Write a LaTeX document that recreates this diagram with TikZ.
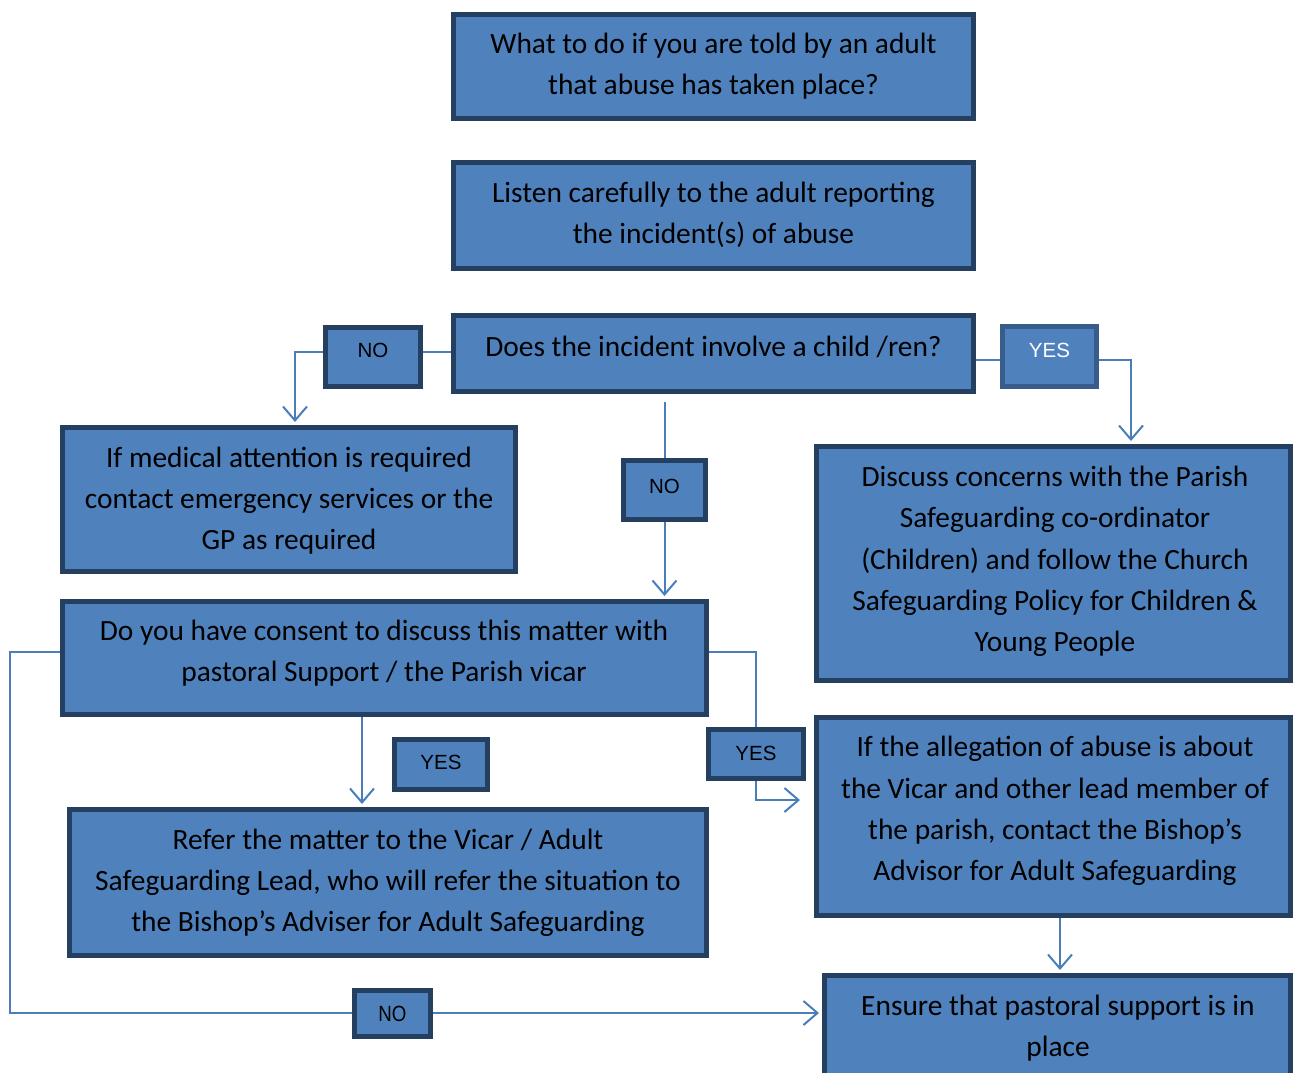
\documentclass[tikz,border=0pt]{standalone}
\usepackage{fontspec}
\setmainfont{Carlito}
\newfontfamily\arialf{Liberation Sans}
\usetikzlibrary{arrows.meta,backgrounds}
\definecolor{boxfill}{HTML}{4F81BD}
\definecolor{boxline}{HTML}{243F60}
\definecolor{boxline2}{HTML}{385D8A}
\definecolor{connc}{HTML}{4A7EBB}
\tikzset{
  box/.style={draw=boxline, fill=boxfill, line width=5pt, inner sep=0pt},
  txt/.style={align=center, inner sep=0pt, yshift=-2pt, font=\fontsize{29.4}{41.3}\selectfont},
  lbl/.style={inner sep=0pt, font=\arialf\fontsize{20.5}{24}\selectfont},
  conn/.style={draw=connc, line width=2pt},
  arr/.style={conn, -{Straight Barb[length=14pt,width=24pt,line width=2pt]}, shorten >=3pt},
}
\begin{document}
\begin{tikzpicture}[x=1pt,y=-1pt]
\useasboundingbox (0,0) rectangle (1294,1072);
% boxes
\node[box, minimum width=520, minimum height=104] (title) at (713.5,66.5) {};
\node[txt] (titleT) at (713.5,64.5) {What to do if you are told by an adult\\that abuse has taken place?};
\node[box, minimum width=520, minimum height=106] (listen) at (713.5,215.5) {};
\node[txt] (listenT) at (713.5,213) {Listen carefully to the adult reporting\\the incident(s) of abuse};
\node[box, minimum width=520, minimum height=76] (does) at (713.5,353.5) {};
\node[txt] (doesT) at (713.5,345) {Does the incident involve a child /ren?};
\node[box, minimum width=95, minimum height=59] (noL) at (373,357) {};
\node[lbl] (noLT) at (373,350) {NO};
\node[box, draw=boxline2, minimum width=94, minimum height=60] (yesR) at (1049.5,356.5) {};
\node[lbl, text=white] (yesRT) at (1049.5,350) {YES};
\node[box, minimum width=453, minimum height=144] (medical) at (289,499.5) {};
\node[txt] (medicalT) at (289,498.5) {If medical attention is required\\contact emergency services or the\\GP as required};
\node[box, minimum width=82, minimum height=59] (noM) at (664.5,490) {};
\node[lbl] (noMT) at (664.5,486) {NO};
\node[box, minimum width=474, minimum height=234] (discuss) at (1053.5,563.5) {};
\node[txt] (discussT) at (1055,559.5) {Discuss concerns with the Parish\\Safeguarding co-ordinator\\(Children) and follow the Church\\Safeguarding Policy for Children \&\\Young People};
\node[box, minimum width=644, minimum height=113] (consent) at (384.5,658) {};
\node[txt] (consentT) at (384,651.5) {Do you have consent to discuss this matter with\\pastoral Support / the Parish vicar};
\node[box, minimum width=93, minimum height=50] (yesML) at (441,764.5) {};
\node[lbl] (yesMLT) at (441,762) {YES};
\node[box, minimum width=95, minimum height=49] (yesMR) at (756,754) {};
\node[lbl] (yesMRT) at (756,753) {YES};
\node[box, minimum width=637, minimum height=146] (refer) at (388,882.5) {};
\node[txt] (referT) at (388,881) {Refer the matter to the Vicar / Adult\\Safeguarding Lead, who will refer the situation to\\the Bishop’s Adviser for Adult Safeguarding};
\node[box, minimum width=474, minimum height=198] (alleg) at (1053.5,816.5) {};
\node[txt] (allegT) at (1055,809) {If the allegation of abuse is about\\the Vicar and other lead member of\\the parish, contact the Bishop’s\\Advisor for Adult Safeguarding};
\node[box, minimum width=466, minimum height=112] (ensure) at (1057.5,1031.5) {};
\node[txt] (ensureT) at (1058,1026) {Ensure that pastoral support is in\\place};
\node[box, minimum width=76, minimum height=46] (noB) at (392.5,1013) {};
\node[lbl, font=\arialf\fontsize{22}{24}\selectfont, xscale=0.85] (noBT) at (392.5,1014) {NO};
\coordinate (lcorner) at (10,1013);
% connectors
\begin{pgfonlayer}{background}
\draw[conn] ([yshift=5]noL.east) -- ([yshift=5]noL.east -| does.west);
\draw[arr] ([yshift=5]noL.west) -| ([xshift=6]medical.north);
\draw[conn] ([yshift=-3.5]yesR.west) -- ([yshift=-3.5]yesR.west -| does.east);
\draw[arr] ([yshift=-3.5]yesR.east) -| ([xshift=77.5]discuss.north);
\draw[conn] ([yshift=-8]does.south -| noM.north) -- (noM.north);
\draw[arr] (noM.south) -- (noM.south |- consent.north);
\draw[conn] ([yshift=6]consent.west) -| (lcorner) -- (noB.west);
\draw[arr] (noB.east) -- (noB.east -| ensure.west);
\draw[conn] ([yshift=6]consent.east) -| (yesMR.north);
\draw[arr, shorten >=0pt] (yesMR.south) |- ([yshift=16.5,xshift=-14]alleg.west);
\draw[arr] ([xshift=-22.5]consent.south) -- ([xshift=-22.5]consent.south |- refer.north);
\draw[arr] ([xshift=6.5]alleg.south) -- ([xshift=6.5]alleg.south |- ensure.north);
\end{pgfonlayer}
\end{tikzpicture}
\end{document}
